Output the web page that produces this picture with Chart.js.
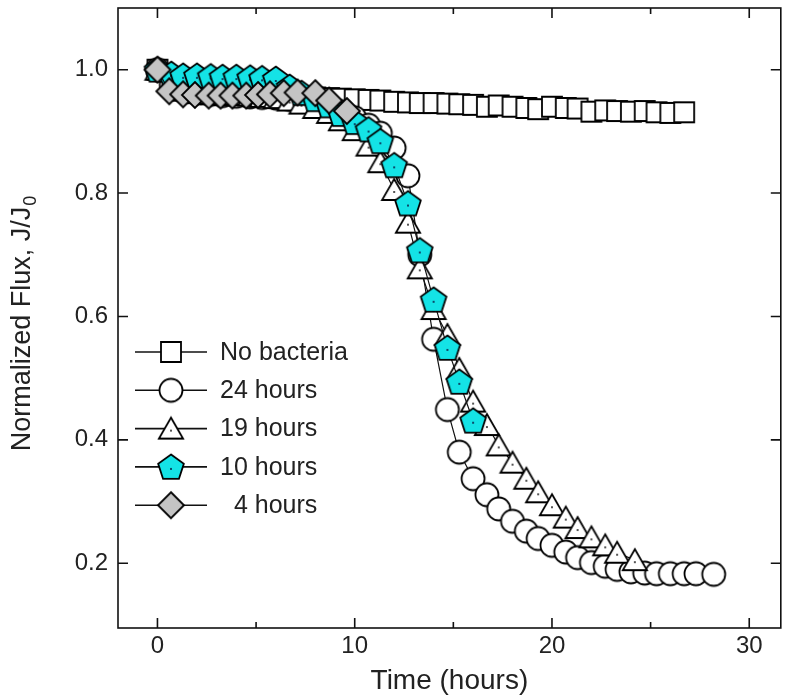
<!DOCTYPE html>
<html>
<head>
<meta charset="utf-8">
<script src="https://cdn.jsdelivr.net/npm/chart.js@4.4.1/dist/chart.umd.min.js"></script>
<style>
  html, body { margin: 0; padding: 0; background: #fff; }
  #wrap { width: 794px; height: 698px; }
</style>
</head>
<body>
<div id="wrap"><canvas id="fluxChart" width="794" height="698"></canvas></div>
<script>
// Values (time in hours, normalized flux J/J0)
const noBactTime = [0, 0.7, 1.3, 2.0, 2.7, 3.3, 4.0, 4.7, 5.3, 6.0, 6.7, 7.3, 8.0, 8.7, 9.3, 10.0, 10.7, 11.3, 12.0, 12.7, 13.3, 14.0, 14.7, 15.3, 16.0, 16.7, 17.3, 18.0, 18.7, 19.3, 20.0, 20.7, 21.3, 22.0, 22.7, 23.3, 24.0, 24.7, 25.3, 26.0, 26.7];
const noBactFlux = [1.00, 0.975, 0.966, 0.962, 0.960, 0.959, 0.958, 0.957, 0.957, 0.956, 0.956, 0.955, 0.955, 0.954, 0.953, 0.952, 0.951, 0.950, 0.948, 0.947, 0.946, 0.946, 0.945, 0.944, 0.943, 0.940, 0.942, 0.940, 0.938, 0.936, 0.940, 0.938, 0.937, 0.932, 0.934, 0.933, 0.932, 0.933, 0.931, 0.930, 0.931];

const h24Time = [0, 0.7, 1.3, 2.0, 2.7, 3.3, 4.0, 4.7, 5.3, 6.0, 6.7, 7.3, 8.0, 8.7, 9.3, 10.0, 10.7, 11.3, 12.0, 12.7, 13.3, 14.0, 14.7, 15.3, 16.0, 16.7, 17.3, 18.0, 18.7, 19.3, 20.0, 20.7, 21.3, 22.0, 22.7, 23.3, 24.0, 24.7, 25.3, 26.0, 26.7, 27.3, 28.2];
const h24Flux = [1.00, 0.975, 0.965, 0.962, 0.960, 0.958, 0.957, 0.956, 0.955, 0.954, 0.952, 0.950, 0.946, 0.940, 0.932, 0.922, 0.910, 0.897, 0.873, 0.828, 0.700, 0.563, 0.449, 0.380, 0.337, 0.311, 0.288, 0.268, 0.252, 0.240, 0.229, 0.218, 0.209, 0.201, 0.195, 0.190, 0.186, 0.184, 0.183, 0.183, 0.183, 0.183, 0.182];

const h19Time = [0, 0.7, 1.3, 2.0, 2.7, 3.3, 4.0, 4.7, 5.3, 6.0, 6.7, 7.3, 8.0, 8.7, 9.3, 10.0, 10.7, 11.3, 12.0, 12.7, 13.3, 14.0, 14.7, 15.3, 16.0, 16.7, 17.3, 18.0, 18.7, 19.3, 20.0, 20.7, 21.3, 22.0, 22.7, 23.3, 24.2];
const h19Flux = [1.00, 0.980, 0.968, 0.963, 0.961, 0.960, 0.959, 0.958, 0.956, 0.954, 0.950, 0.945, 0.938, 0.930, 0.918, 0.902, 0.877, 0.850, 0.805, 0.752, 0.678, 0.612, 0.570, 0.515, 0.462, 0.424, 0.391, 0.363, 0.337, 0.315, 0.294, 0.274, 0.257, 0.242, 0.229, 0.217, 0.205];

const h10Time = [0, 0.7, 1.3, 2.0, 2.7, 3.3, 4.0, 4.7, 5.3, 6.0, 6.7, 7.3, 8.0, 8.7, 9.3, 10.0, 10.7, 11.3, 12.0, 12.7, 13.3, 14.0, 14.7, 15.3, 16.0];
const h10Flux = [1.00, 0.993, 0.990, 0.990, 0.989, 0.988, 0.988, 0.987, 0.986, 0.985, 0.972, 0.962, 0.952, 0.942, 0.928, 0.915, 0.903, 0.884, 0.845, 0.783, 0.707, 0.627, 0.549, 0.494, 0.431];

const h4Time = [0, 0.6, 1.3, 1.9, 2.6, 3.2, 3.8, 4.5, 5.1, 5.7, 6.4, 7.1, 8.0, 8.7, 9.6];
const h4Flux = [1.00, 0.965, 0.960, 0.959, 0.958, 0.958, 0.958, 0.958, 0.959, 0.960, 0.962, 0.963, 0.962, 0.950, 0.933];

const seriesLabels = ["No bacteria", "24 hours", "19 hours", "10 hours", "4 hours"];
const xMajorTicks = [0, 10, 20, 30];
const xMinorTicks = [5, 15, 25];
const yMajorTicks = [0.2, 0.4, 0.6, 0.8, 1.0];

const FONT = "'Liberation Sans', Arial, sans-serif";
const TEXT = "#222";

// marker pictures, used for the points and for the legend
function makeMarker(kind) {
  const c = document.createElement("canvas");
  c.width = 34; c.height = 34;
  const g = c.getContext("2d");
  const cx = 17, cy = 17;
  g.lineWidth = 1.8;
  g.strokeStyle = "#000";
  g.beginPath();
  if (kind === "square") {
    g.rect(cx - 10, cy - 10, 20, 20);
    g.fillStyle = "#fff";
  } else if (kind === "circle") {
    g.arc(cx, cy, 11.5, 0, Math.PI * 2);
    g.fillStyle = "#fff";
  } else if (kind === "triangle") {
    for (let i = 0; i < 3; i++) {
      const a = -Math.PI / 2 + i * 2 * Math.PI / 3;
      g.lineTo(cx + 14 * Math.cos(a), cy + 3 + 14 * Math.sin(a));
    }
    g.closePath();
    g.fillStyle = "#fff";
  } else if (kind === "pentagon") {
    for (let i = 0; i < 5; i++) {
      const a = -Math.PI / 2 + i * 2 * Math.PI / 5;
      g.lineTo(cx + 13.5 * Math.cos(a), cy + 1 + 13.5 * Math.sin(a));
    }
    g.closePath();
    g.fillStyle = "#14e3e6";
  } else {
    g.moveTo(cx, cy - 13); g.lineTo(cx + 13, cy); g.lineTo(cx, cy + 13); g.lineTo(cx - 13, cy);
    g.closePath();
    g.fillStyle = "#c4c4c4";
  }
  g.fill();
  g.stroke();
  if (kind === "triangle" || kind === "pentagon") {
    g.fillStyle = kind === "pentagon" ? "#0b4a6a" : "#555";
    g.fillRect(cx - 1, cy + 1, 2, 2);
  }
  return c;
}

const markers = ["square", "circle", "triangle", "pentagon", "diamond"].map(makeMarker);

function toPoints(ts, vs) {
  return ts.map((t, i) => ({ x: t, y: vs[i] }));
}

const seriesData = [
  toPoints(noBactTime, noBactFlux),
  toPoints(h24Time, h24Flux),
  toPoints(h19Time, h19Flux),
  toPoints(h10Time, h10Flux),
  toPoints(h4Time, h4Flux)
];

// pin the plot box top (the y labels push it down otherwise)
const pinTop = {
  id: "pinTop",
  afterLayout(chart) {
    const y = chart.scales.y;
    chart.chartArea.top = 8;
    chart.chartArea.height = chart.chartArea.bottom - 8;
    y.top = 8;
    y.height = y.bottom - 8;
    y.configure();
  }
};

// frame and inward ticks on all four sides
const frameTicks = {
  id: "frameTicks",
  afterDraw(chart) {
    const { ctx, chartArea: a, scales: { x, y } } = chart;
    ctx.save();
    ctx.strokeStyle = "#111";
    ctx.lineWidth = 1.6;
    ctx.strokeRect(a.left, a.top, a.right - a.left, a.bottom - a.top);
    ctx.beginPath();
    const xt = (v, len) => {
      const px = x.getPixelForValue(v);
      ctx.moveTo(px, a.bottom); ctx.lineTo(px, a.bottom - len);
      ctx.moveTo(px, a.top); ctx.lineTo(px, a.top + len);
    };
    xMajorTicks.forEach(v => xt(v, 10));
    xMinorTicks.forEach(v => xt(v, 6));
    yMajorTicks.forEach(v => {
      const py = y.getPixelForValue(v);
      ctx.moveTo(a.left, py); ctx.lineTo(a.left + 10, py);
      ctx.moveTo(a.right, py); ctx.lineTo(a.right - 10, py);
    });
    ctx.stroke();
    ctx.restore();
  }
};

// y title with subscript 0
const yTitle = {
  id: "yTitle",
  afterDraw(chart) {
    const { ctx } = chart;
    const main = "Normalized Flux, J/J";
    ctx.save();
    ctx.fillStyle = TEXT;
    ctx.textBaseline = "middle";
    ctx.textAlign = "left";
    ctx.translate(23, 324);
    ctx.rotate(-Math.PI / 2);
    ctx.font = "27px " + FONT;
    const w1 = ctx.measureText(main).width;
    ctx.font = "18px " + FONT;
    const w2 = ctx.measureText("0").width;
    const x0 = -(w1 + w2) / 2;
    ctx.font = "27px " + FONT;
    ctx.fillText(main, x0, 0);
    ctx.font = "18px " + FONT;
    ctx.fillText("0", x0 + w1 + 1, 8);
    ctx.restore();
  }
};

// legend inside the plot: line through marker, then label
const legendBox = {
  id: "legendBox",
  afterDraw(chart) {
    const { ctx } = chart;
    ctx.save();
    ctx.font = "25px " + FONT;
    ctx.fillStyle = TEXT;
    ctx.textBaseline = "middle";
    const digitW = ctx.measureText("2").width;
    seriesLabels.forEach((lab, i) => {
      const yy = 352 + i * 38.3;
      ctx.strokeStyle = "#111";
      ctx.lineWidth = 1.6;
      ctx.beginPath();
      ctx.moveTo(135, yy); ctx.lineTo(207, yy);
      ctx.stroke();
      const m = markers[i];
      ctx.drawImage(m, 171 - m.width / 2, yy - m.height / 2);
      const tx = lab === "4 hours" ? 220 + digitW : 220;
      ctx.fillText(lab, tx, yy + 1);
    });
    ctx.restore();
  }
};

const drawOrder = [5, 4, 3, 2, 1];

const datasets = seriesData.map((pts, i) => ({
  label: seriesLabels[i],
  data: pts,
  showLine: true,
  borderColor: "#111",
  borderWidth: 1.2,
  pointStyle: markers[i],
  pointRadius: 12,
  order: drawOrder[i]
}));

new Chart(document.getElementById("fluxChart").getContext("2d"), {
  type: "scatter",
  data: { datasets: datasets },
  options: {
    responsive: false,
    animation: false,
    events: [],
    layout: { padding: { top: 8, right: 13, left: 0, bottom: 0 } },
    plugins: {
      legend: { display: false },
      tooltip: { enabled: false }
    },
    scales: {
      x: {
        type: "linear",
        min: -2,
        max: 31.6,
        grid: { display: false, drawTicks: false },
        border: { display: false },
        afterBuildTicks: s => { s.ticks = xMajorTicks.map(v => ({ value: v })); },
        afterFit: s => { s.height = 70; s.paddingLeft = 0; s.paddingRight = 0; },
        ticks: { font: { size: 24, family: FONT }, color: TEXT, padding: 4, maxRotation: 0 },
        title: {
          display: true,
          text: "Time (hours)",
          font: { size: 28, family: FONT },
          color: TEXT,
          padding: { top: 0, bottom: 0 }
        }
      },
      y: {
        type: "linear",
        min: 0.095,
        max: 1.1,
        grid: { display: false, drawTicks: false },
        border: { display: false },
        afterBuildTicks: s => { s.ticks = yMajorTicks.map(v => ({ value: v })); },
        afterFit: s => { s.width = 118; s.paddingTop = 0; s.paddingBottom = 0; },
        ticks: {
          font: { size: 24, family: FONT },
          color: TEXT,
          padding: 10,
          callback: v => v.toFixed(1)
        }
      }
    }
  },
  plugins: [pinTop, frameTicks, yTitle, legendBox]
});
</script>
</body>
</html>
